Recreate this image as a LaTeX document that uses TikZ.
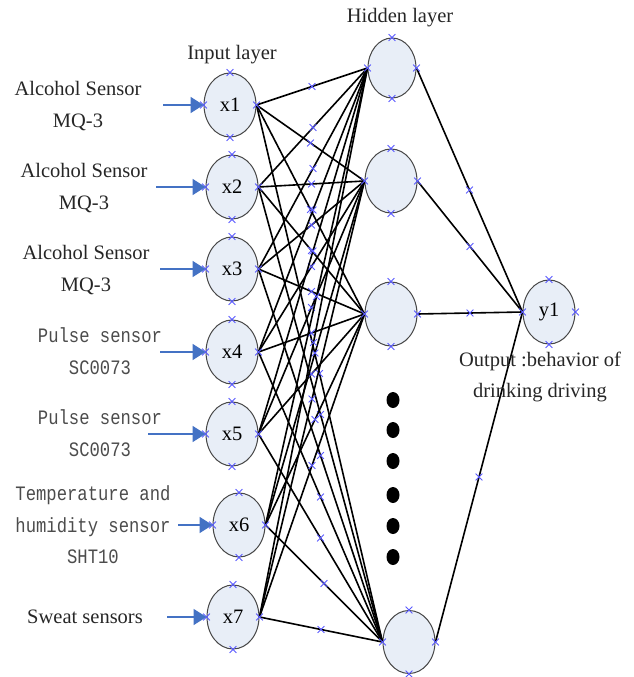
\documentclass[tikz,border=0pt]{standalone}
\usepackage{fontspec}
\setmainfont{Liberation Serif}
\newfontfamily\monof[FakeStretch=0.84]{Liberation Mono}
\usetikzlibrary{shapes.geometric,shapes.misc,arrows.meta}
\definecolor{nfill}{RGB}{232,238,247}
\definecolor{nedge}{RGB}{70,70,70}
\definecolor{arrblue}{RGB}{68,114,196}
\definecolor{xblue}{RGB}{90,90,255}
\begin{document}
\begin{tikzpicture}[x=1pt,y=-1pt,
 neuron/.style={ellipse,draw=nedge,line width=1pt,fill=nfill,minimum width=52pt,minimum height=64pt,inner sep=0pt,font=\fontsize{20.5}{24}\selectfont},
 conn/.style={line width=1.6pt,black},
 inarrow/.style={arrblue,line width=1.8pt,-{Triangle[length=13pt,width=16pt]}},
 xmk/.style={cross out,draw=xblue,line width=0.8pt,minimum size=6pt,inner sep=0pt},
 lbl/.style={font=\fontsize{20.5}{31.5}\selectfont,align=center,text=black!85},
 mlbl/.style={font=\monof\fontsize{20.5}{31.5}\selectfont,align=center,text=black!70},
 dotn/.style={ellipse,fill=black,minimum width=13pt,minimum height=16pt,inner sep=0pt}]
\useasboundingbox (0,0) rectangle (633,677);

% input neurons
\node[neuron] (x1) at (230,105) {x1};
\node[neuron] (x2) at (232,187) {x2};
\node[neuron] (x3) at (232,269) {x3};
\node[neuron] (x4) at (232,352) {x4};
\node[neuron] (x5) at (232,434) {x5};
\node[neuron] (x6) at (239,525) {x6};
\node[neuron] (x7) at (233,617) {x7};
% hidden neurons
\node[neuron,minimum width=48pt,minimum height=60pt] (h1) at (392,68) {};
\node[neuron] (h2) at (391,181) {};
\node[neuron] (h3) at (391,314) {};
\node[neuron,minimum height=63pt] (h4) at (409,642) {};
% output neuron
\node[neuron] (y1) at (549,312) {y1};

% dots
\foreach \k/\yy in {1/400,2/430,3/461,4/495,5/526,6/557}
  \node[dotn] (d\k) at (393,\yy) {};

% connections input -> hidden
\foreach \i in {1,...,7}
  \foreach \j in {1,...,4}
    \draw[conn] (x\i.east) -- (h\j.west) node[xmk,pos=0.5] (m\i\j) {};
% hidden -> output
\foreach \j in {1,...,4}
  \draw[conn] (h\j.east) -- (y1.west) node[xmk,pos=0.5] (o\j) {};

% connection-point marks on neurons
\foreach \n in {x1,x2,x3,x4,x5,x6,x7,h1,h2,h3,h4,y1}
  \foreach \a in {north,south,east,west}
    \node[xmk] (\n-\a) at (\n.\a) {};

% input arrows
\coordinate (a1) at (163,105);
\coordinate (a2) at (156,187);
\coordinate (a3) at (160,269);
\coordinate (a4) at (160,352);
\coordinate (a5) at (148,434);
\coordinate (a6) at (178,525);
\coordinate (a7) at (167,617);
\foreach \i in {1,...,7}
  \draw[inarrow] (a\i) -- (x\i.west);

% labels
\node[lbl] (t1) at (78,106) {Alcohol Sensor\\MQ-3};
\node[lbl] (t2) at (84,188) {Alcohol Sensor\\MQ-3};
\node[lbl] (t3) at (86,270) {Alcohol Sensor\\MQ-3};
\node[mlbl] (t4) at (100,351) {Pulse sensor\\SC0073};
\node[mlbl] (t5) at (100,433) {Pulse sensor\\SC0073};
\node[mlbl] (t6) at (93,525) {Temperature and\\humidity sensor\\SHT10};
\node[lbl] (t7) at (85,617) {Sweat sensors};
\node[lbl] (tin) at (232,55) {Input layer};
\node[lbl] (thid) at (400,18) {Hidden layer};
\node[lbl] (tout) at (540,377) {Output :behavior of\\drinking driving};
\end{tikzpicture}
\end{document}
